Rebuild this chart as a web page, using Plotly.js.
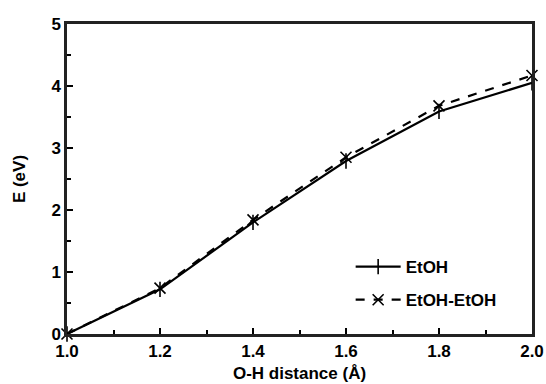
<!DOCTYPE html>
<html><head><meta charset="utf-8">
<script src="https://cdn.plot.ly/plotly-3.0.1.min.js"></script>
<style>body{margin:0;background:#fff}</style>
</head><body>
<div id="chart" style="width:546px;height:384px"></div>
<script>
const distance = [1.0, 1.2, 1.4, 1.6, 1.8, 2.0];
const etoh = [0, 0.72, 1.80, 2.79, 3.59, 4.05];
const etohDimer = [0, 0.74, 1.84, 2.85, 3.68, 4.17];
const seriesNames = ["EtOH", "EtOH-EtOH"];
const xRange = [1.0, 2.0];
const yRange = [0, 5];
const xTickVals = [1.0, 1.2, 1.4, 1.6, 1.8, 2.0];
const xTickText = ["1.0", "1.2", "1.4", "1.6", "1.8", "2.0"];
const yTickVals = [0, 1, 2, 3, 4, 5];

const ink = "#000000";
const frame = "#222222";
const font = {family: "Liberation Sans, Arial, sans-serif", color: ink};
const traces = [
  {x: distance, y: etoh, name: seriesNames[0], mode: "lines+markers", legendgroup: "a",
   line: {color: ink, width: 2.2}, cliponaxis: false,
   marker: {symbol: "line-ns-open", size: 11, color: ink, line: {width: 1.6, color: ink}}},
  {x: distance, y: etohDimer, name: seriesNames[1], mode: "lines+markers", legendgroup: "b",
   line: {color: ink, width: 2.2, dash: "dash"}, cliponaxis: false,
   marker: {symbol: "x-thin-open", size: 11, color: ink, line: {width: 1.6, color: ink}}}
];
const axisCommon = {
  showgrid: false, zeroline: false, showline: true, linecolor: frame, linewidth: 2.5,
  mirror: true, ticks: "inside", ticklen: 6, tickwidth: 2, tickcolor: ink,
  tickfont: Object.assign({size: 17, weight: "bold"}, font)
};
const layout = {
  width: 546, height: 384,
  margin: {l: 67, r: 14, t: 24, b: 50},
  paper_bgcolor: "white", plot_bgcolor: "white",
  showlegend: true,
  legend: {x: 0.61, y: 0.274, xanchor: "left", yanchor: "top", bgcolor: "rgba(0,0,0,0)",
           traceorder: "grouped", tracegroupgap: 8,
           font: Object.assign({size: 17, weight: "bold"}, font), itemwidth: 45},
  xaxis: Object.assign({}, axisCommon, {
    range: xRange, tickvals: xTickVals, ticktext: xTickText,
    minor: {dtick: 0.1, ticklen: 4, tickwidth: 2, tickcolor: ink, ticks: "inside"},
    title: {text: "O-H distance (Å)", standoff: 7, font: Object.assign({size: 17, weight: "bold"}, font)}
  }),
  yaxis: Object.assign({}, axisCommon, {
    range: yRange, tickvals: yTickVals,
    minor: {dtick: 0.5, ticklen: 4, tickwidth: 2, tickcolor: ink, ticks: "inside"},
    title: {text: "E (eV)", standoff: 22, font: Object.assign({size: 17, weight: "bold"}, font)}
  })
};
Plotly.newPlot("chart", traces, layout, {displayModeBar: false});
</script>
</body></html>
